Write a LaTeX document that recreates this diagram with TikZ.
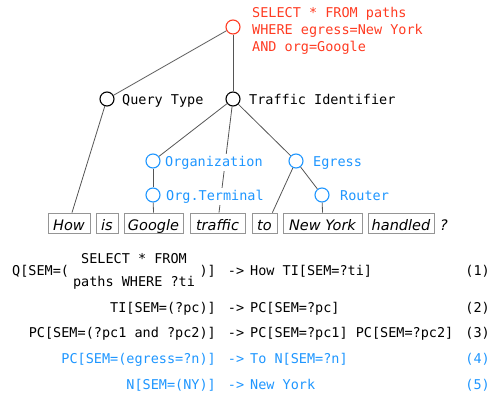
\documentclass[tikz,border=0pt]{standalone}
\usepackage{fontspec}
\setmonofont{DejaVu Sans Mono}
\newfontfamily\wordfont{DejaVu Sans}
\definecolor{redq}{HTML}{FF3B22}
\definecolor{blueq}{HTML}{1E96FF}
\definecolor{edgegray}{HTML}{555555}
\definecolor{boxgray}{HTML}{959595}
\begin{document}
\begin{tikzpicture}[x=1pt,y=-1pt,
  every node/.style={font=\ttfamily\fontsize{13.5}{17}\selectfont, inner sep=0pt},
  tnode/.style={circle, draw, line width=1.1pt, minimum size=14pt, fill=white},
  lbl/.style={anchor=base west, fill=white, inner xsep=1pt, inner ysep=2pt, text height=10pt, text depth=3pt},
  edge/.style={draw=edgegray, line width=0.8pt},
  word/.style={draw=boxgray, line width=0.8pt, minimum height=20pt, text height=17pt, text depth=3pt,
    font=\wordfont\itshape\fontsize{14.5}{16}\selectfont},
  eqL/.style={anchor=base east},
  eqR/.style={anchor=base west},
  eqA/.style={anchor=base},
]
\useasboundingbox (0,0) rectangle (493,394);
% tree nodes
\node[tnode, draw=redq] (root) at (233,27) {};
\node[tnode] (qt) at (107,99) {};
\node[tnode] (ti) at (233,99) {};
\node[tnode, draw=blueq] (org) at (153,161) {};
\node[tnode, draw=blueq] (eg) at (296,161) {};
\node[tnode, draw=blueq] (ot) at (153,195) {};
\node[tnode, draw=blueq] (rt) at (322,195) {};
% words
\node[word, minimum width=42pt] (w1) at (69,223) {How};
\node[word, minimum width=22pt] (w2) at (107,223) {is};
\node[word, minimum width=59pt] (w3) at (153.5,223) {Google};
\node[word, minimum width=55pt] (w4) at (217.5,223) {traffic};
\node[word, minimum width=25pt] (w5) at (264.5,223) {to};
\node[word, minimum width=79pt] (w6) at (322.5,223) {New York};
\node[word, minimum width=66pt] (w7) at (401,223) {handled};
\node[anchor=base west, font=\wordfont\itshape\fontsize{14.5}{16}\selectfont] (qm) at (440,230) {?};
% edges
\draw[edge] (root) -- (qt);
\draw[edge] (root) -- (ti);
\draw[edge] (qt) -- ([xshift=3pt]w1.north);
\draw[edge] (ti) -- (org);
\draw[edge] (ti) -- (eg);
\draw[edge] (ti) -- ([xshift=1.5pt]w4.north);
\draw[edge] (org) -- (ot);
\draw[edge] (ot) -- (w3.north);
\draw[edge] (eg) -- ([xshift=-5pt]w5.north east);
\draw[edge] (eg) -- (rt);
\draw[edge] (rt) -- (w6.north);
% labels
\node[anchor=base west, align=left, text=redq] (sql) at (252,51) {SELECT * FROM paths\\WHERE egress=New York\\AND org=Google};
\node[lbl] (lqt) at (121,104) {Query Type};
\node[lbl] (lti) at (248,104) {Traffic Identifier};
\node[lbl, text=blueq] (lorg) at (164,166) {Organization};
\node[lbl, text=blueq] (leg) at (312,166) {Egress};
\node[lbl, text=blueq] (lot) at (165,200) {Org.Terminal};
\node[lbl, text=blueq] (lrt) at (339,200) {Router};
% rules
\node[eqR] (q1a) at (12,275) {Q[SEM=(};
\node[anchor=base, align=center, font=\ttfamily\fontsize{13.5}{23}\selectfont] (q1s) at (134,286) {SELECT * FROM\\paths WHERE ?ti};
\node[eqL] (q1b) at (216,275) {)]};
\node[eqA] (a1) at (236,275) {->};
\node[eqR] (r1) at (250,275) {How TI[SEM=?ti]};
\node[eqL] (n1) at (490,275) {(1)};
\node[eqL] (l2) at (216,312) {TI[SEM=(?pc)]};
\node[eqA] (a2) at (236,312) {->};
\node[eqR] (r2) at (250,312) {PC[SEM=?pc]};
\node[eqL] (n2) at (490,312) {(2)};
\node[eqL] (l3) at (216,337) {PC[SEM=(?pc1 and ?pc2)]};
\node[eqA] (a3) at (236,337) {->};
\node[eqR] (r3) at (250,337) {PC[SEM=?pc1] PC[SEM=?pc2]};
\node[eqL] (n3) at (490,337) {(3)};
\begin{scope}[every node/.append style={text=blueq}]
\node[eqL] (l4) at (216,363) {PC[SEM=(egress=?n)]};
\node[eqA] (a4) at (236,363) {->};
\node[eqR] (r4) at (250,363) {To N[SEM=?n]};
\node[eqL] (n4) at (490,363) {(4)};
\node[eqL] (l5) at (216,389) {N[SEM=(NY)]};
\node[eqA] (a5) at (236,389) {->};
\node[eqR] (r5) at (250,389) {New York};
\node[eqL] (n5) at (490,389) {(5)};
\end{scope}
\end{tikzpicture}
\end{document}
